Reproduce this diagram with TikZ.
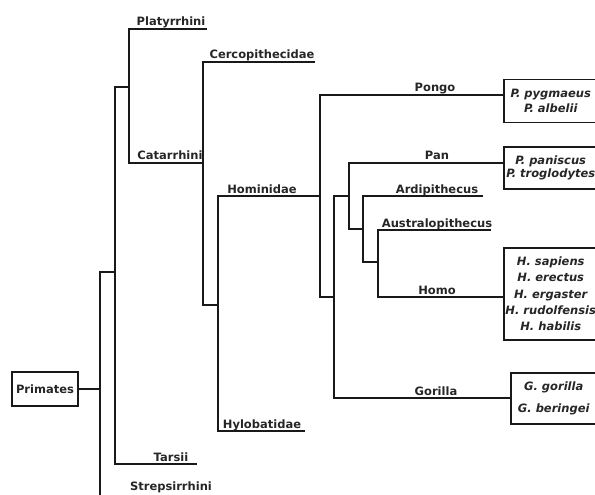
\documentclass[tikz,border=0pt]{standalone}
\usepackage{fontspec}
\setmainfont{DejaVu Sans}
\usetikzlibrary{positioning}

\begin{document}
\begin{tikzpicture}[x=1pt, y=-1pt, line cap=rect, line join=miter,
    branch/.style={line width=1.7pt, black!90},
    taxon/.style={font=\fontsize{11.5}{13}\selectfont\bfseries, text=black!85, inner sep=0pt, anchor=base},
    spbox/.style={draw, line width=1.5pt, black!90, text=black!85, align=center, inner sep=0pt,
        anchor=north west, minimum width=94},
    rootbox/.style={draw, line width=1.5pt, black!90, text=black!85, font=\fontsize{11.5}{13}\selectfont\bfseries,
        minimum width=66, minimum height=34, inner sep=0pt}]

    \useasboundingbox (0,0) rectangle (595,495);
    \clip (0,0) rectangle (595,495);

    % --- 1. Root: Primates and Strepsirrhini ---
    \node[rootbox] (primates) at (45,389) {Primates};
    \coordinate (rootbar) at (100,272);
    \coordinate (strep-end) at (100,500);
    \draw[branch] (primates.east) -- (primates.east -| rootbar);
    \draw[branch] (rootbar) -- (strep-end);
    \node[taxon] (strepsirrhini) at (171,490) {Strepsirrhini};

    % --- 2. Haplorhini: Tarsii and the simians ---
    \coordinate (haplbar) at (115,87);
    \coordinate (tarsii-end) at (196,464);
    \draw[branch] (rootbar) -- (rootbar -| haplbar);
    \draw[branch] (haplbar) |- (tarsii-end);
    \node[taxon] (tarsii) at (171,461) {Tarsii};

    % --- 3. Platyrrhini and Catarrhini ---
    \coordinate (simbar) at (129,29);
    \coordinate (platy-end) at (206,29);
    \coordinate (catarrh-end) at (203,163);
    \draw[branch] (haplbar) -- (haplbar -| simbar);
    \draw[branch] (platy-end) -- (simbar) |- (catarrh-end);
    \node[taxon] (platyrrhini) at (171,26) {Platyrrhini};
    \node[taxon] (catarrhini) at (170,159) {Catarrhini};

    % --- 4. Cercopithecidae and Hominoidea ---
    \coordinate (catbar) at (203,62);
    \coordinate (cerco-end) at (314,62);
    \coordinate (catknee) at (203,305);
    \coordinate (apebar) at (218,196);
    \coordinate (hylo-end) at (304,431);
    \draw[branch] (cerco-end) -- (catbar) -- (catknee) -- (catknee -| apebar);
    \node[taxon] (cercopithecidae) at (262,59) {Cercopithecidae};
    \draw[branch] (apebar) |- (hylo-end);
    \node[taxon] (hylobatidae) at (262,428) {Hylobatidae};
    \node[taxon] (hominidae) at (262,193) {Hominidae};

    % --- 5. Hominidae ---
    \coordinate (hombar) at (320,95);
    \coordinate (homknee) at (320,297);
    \coordinate (afbar) at (334,196);
    \coordinate (gor-start) at (334,398);
    \coordinate (panbar) at (349,163);
    \coordinate (panknee) at (349,229);
    \coordinate (hombar2) at (363,196);
    \coordinate (ardi-end) at (482,196);
    \coordinate (hombar2-knee) at (363,262);
    \coordinate (austbar) at (378,230);
    \coordinate (aust-end) at (490,230);
    \coordinate (homo-start) at (378,297);

    % species boxes
    \node[spbox, minimum height=43, font=\fontsize{11.5}{15}\selectfont\bfseries\itshape] (pongo-box) at (503,79)
        {P. pygmaeus\\P. albelii};
    \node[spbox, minimum height=42, font=\fontsize{11.5}{13}\selectfont\bfseries\itshape] (pan-box) at (503,146)
        {P. paniscus\\P. troglodytes};
    \node[spbox, minimum height=92, font=\fontsize{11.5}{16.3}\selectfont\bfseries\itshape] (homo-box) at (503,247)
        {H. sapiens\\H. erectus\\H. ergaster\\H. rudolfensis\\H. habilis};
    \node[spbox, minimum height=51, minimum width=86, font=\fontsize{11.5}{22}\selectfont\bfseries\itshape] (gorilla-box) at (510,372)
        {G. gorilla\\G. beringei};

    \draw[branch] (apebar) -- (apebar -| hombar);
    \draw[branch] (pongo-box.west |- hombar) -- (hombar) -- (homknee) -- (homknee -| afbar);
    \draw[branch] (afbar) -- (gor-start) -- (gor-start -| gorilla-box.west);
    \draw[branch] (afbar) -- (afbar -| panbar);
    \draw[branch] (pan-box.west |- panbar) -- (panbar) -- (panknee) -- (panknee -| hombar2);
    \draw[branch] (ardi-end) -- (hombar2) -- (hombar2-knee) -- (hombar2-knee -| austbar);
    \draw[branch] (aust-end) -- (austbar) -- (homo-start) -- (homo-start -| homo-box.west);

    % genus labels
    \node[taxon] (pongo) at (435,92) {Pongo};
    \node[taxon] (pan) at (437,160) {Pan};
    \node[taxon] (ardipithecus) at (437,193) {Ardipithecus};
    \node[taxon] (australopithecus) at (437,227) {Australopithecus};
    \node[taxon] (homo) at (437,294) {Homo};
    \node[taxon] (gorilla) at (436,395) {Gorilla};
\end{tikzpicture}
\end{document}
